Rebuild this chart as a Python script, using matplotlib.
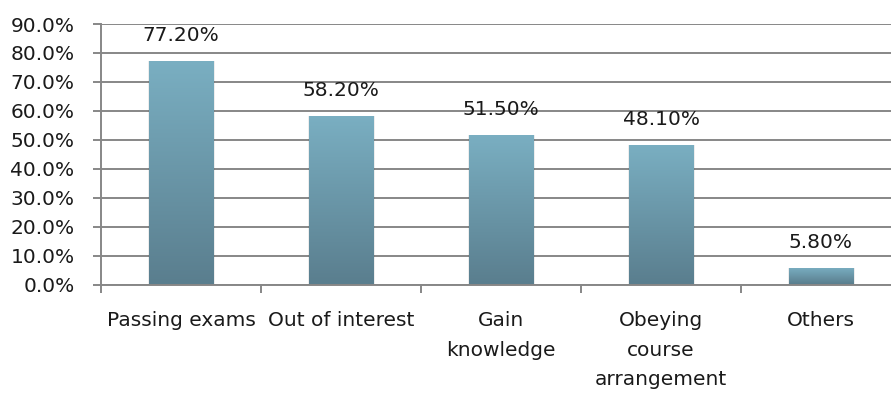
import numpy as np
import matplotlib.pyplot as plt
from matplotlib.patches import Rectangle
from matplotlib.colors import LinearSegmentedColormap

# survey: reasons for taking the course (percent of respondents)
categories = ["Passing exams", "Out of interest", "Gain\nknowledge",
              "Obeying\ncourse\narrangement", "Others"]
values = [77.2, 58.2, 51.5, 48.1, 5.8]
labels = ["77.20%", "58.20%", "51.50%", "48.10%", "5.80%"]
yticks = [0, 10, 20, 30, 40, 50, 60, 70, 80, 90]

plt.rcParams['font.family'] = ['DejaVu Sans']
FS = 14.5
TXT = "#1a1a1a"

fig = plt.figure(figsize=(8.91, 3.94), dpi=100)
# plot area runs a bit past the right edge of the figure
ax = fig.add_axes([101 / 891, 1 - 284.5 / 394, 800 / 891, 260.5 / 394])

grid_c = "#878787"
x = np.arange(len(values))
bar_w = 0.405

bars = ax.bar(x, values, width=bar_w, color="none", edgecolor="none", zorder=3)

cmap = LinearSegmentedColormap.from_list("bar", ["#5a7e8e", "#7aafc2"])
grad = np.linspace(0, 1, 256).reshape(-1, 1)
for b in bars:
    bx, bw, bh = b.get_x(), b.get_width(), b.get_height()
    # faint shadow behind each bar
    sh = Rectangle((bx - 0.006, -0.5), bw + 0.016, bh + 0.5,
                   facecolor="#000000", alpha=0.07, edgecolor="none", zorder=2)
    ax.add_patch(sh)
    im = ax.imshow(grad, extent=(bx, bx + bw, 0, bh), origin="lower", cmap=cmap,
                   aspect="auto", zorder=3)
    im.set_clip_path(b)

for xi, v, lab in zip(x, values, labels):
    ax.annotate(lab, (xi, v), xytext=(0, 14.5), textcoords="offset points",
                ha="center", va="baseline", fontsize=FS, color=TXT)

ax.set_xlim(-0.5, len(values) - 0.5)
ax.set_ylim(0, 90)
ax.set_yticks(yticks)
ax.set_yticklabels([f"{t:.1f}%" for t in yticks], fontsize=FS, color=TXT)
ax.yaxis.grid(True, color=grid_c, linewidth=1.4, zorder=1)
ax.set_axisbelow(True)

ax.set_xticks(x)
ax.set_xticklabels(categories, fontsize=FS, color=TXT, linespacing=1.72)
ax.set_xticks(np.arange(len(values) + 1) - 0.5, minor=True)
ax.tick_params(axis="x", which="major", length=0, pad=19)
ax.tick_params(axis="x", which="minor", length=6, width=1.4, color=grid_c)
ax.tick_params(axis="y", length=6, width=1.4, color=grid_c, pad=13)

for s in ["top", "right"]:
    ax.spines[s].set_visible(False)
for s in ["left", "bottom"]:
    ax.spines[s].set_color(grid_c)
    ax.spines[s].set_linewidth(1.4)

fig.savefig("out.png", dpi=100)
